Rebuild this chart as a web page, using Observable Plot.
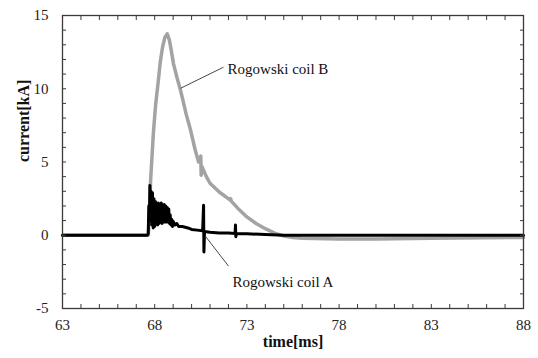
<!DOCTYPE html>
<html><head><meta charset="utf-8">
<script src="https://cdn.jsdelivr.net/npm/d3@7"></script>
<script src="https://cdn.jsdelivr.net/npm/@observablehq/plot@0.6"></script>
<style>
body{margin:0;background:#fff}
</style>
</head><body><div id="chart"></div>
<script>
// Rogowski coil B (gray)
const coilBTime = [63, 67.65, 67.7, 67.78, 67.93, 68.05, 68.2, 68.3, 68.42, 68.55, 68.68, 68.8, 68.9, 69.02, 69.2, 69.4, 69.7, 69.94, 70.2, 70.38, 70.5, 70.52, 70.56, 70.8, 71.0, 71.5, 72.1, 72.12, 72.14, 72.5, 73.0, 73.5, 74.0, 74.5, 75.0, 75.5, 76, 78, 80, 83, 88];
const coilBCurrent = [0, 0, 1.0, 3.8, 7.0, 8.9, 10.6, 11.8, 12.8, 13.5, 13.75, 13.3, 12.6, 11.7, 10.8, 9.9, 8.3, 7.2, 5.8, 5.0, 5.4, 4.1, 4.7, 4.0, 3.55, 2.95, 2.4, 2.5, 2.35, 1.85, 1.25, 0.8, 0.45, 0.15, -0.05, -0.15, -0.2, -0.25, -0.25, -0.2, -0.15];

// Rogowski coil A (black)
const coilATime = [63, 67.6, 67.65, 67.68, 67.71, 67.74, 67.77, 67.8, 67.84, 67.88, 67.92, 67.96, 68.0, 68.04, 68.08, 68.12, 68.16, 68.2, 68.24, 68.28, 68.32, 68.36, 68.4, 68.44, 68.48, 68.52, 68.56, 68.6, 68.64, 68.68, 68.72, 68.76, 68.8, 68.84, 68.88, 68.92, 68.96, 69.0, 69.1, 69.2, 69.3, 69.5, 69.8, 70.0, 70.3, 70.6, 70.65, 70.67, 70.7, 71.0, 71.5, 72.0, 72.36, 72.38, 72.4, 72.42, 73, 74, 75, 80, 88];
const coilACurrent = [0, 0, 0.1, 2.0, 1.0, 3.4, 1.0, 3.0, 0.7, 2.9, 0.5, 2.5, 0.6, 2.3, 0.8, 2.1, 0.7, 2.2, 0.8, 2.0, 0.9, 2.2, 0.8, 1.9, 0.9, 2.1, 0.9, 2.0, 0.9, 1.9, 0.9, 1.8, 0.8, 1.4, 0.7, 1.1, 0.6, 0.95, 0.7, 0.8, 0.6, 0.6, 0.5, 0.4, 0.35, 0.3, 2.05, -1.15, 0.25, 0.2, 0.15, 0.15, 0.12, 0.7, -0.1, 0.1, 0.1, 0.05, 0.0, 0.0, 0.0];

const xTickLabels = [63, 68, 73, 78, 83, 88];
const yTickLabels = [-5, 0, 5, 10, 15];
const xMinorTicks = [63,64,65,66,67,68,69,70,71,72,73,74,75,76,77,78,79,80,81,82,83,84,85,86,87,88];
const yMinorTicks = [-5,-4,-3,-2,-1,0,1,2,3,4,5,6,7,8,9,10,11,12,13,14,15];

const labelNames = ["Rogowski coil B", "Rogowski coil A"];
const labelTime = [71.95, 72.22];
const labelCurrent = [11.33, -3.2];
const leaderTime1 = [69.4, 70.75];
const leaderCurrent1 = [10.03, -0.07];
const leaderTime2 = [71.73, 72.0];
const leaderCurrent2 = [11.47, -2.1];

const seriesB = coilBTime.map((t, i) => ({t, v: coilBCurrent[i]}));
const seriesA = coilATime.map((t, i) => ({t, v: coilACurrent[i]}));
const labels = labelNames.map((name, i) => ({name, t: labelTime[i], v: labelCurrent[i]}));
const leaders = leaderTime1.map((t, i) => ({t1: t, v1: leaderCurrent1[i], t2: leaderTime2[i], v2: leaderCurrent2[i]}));

const serif = "'Liberation Serif', 'Times New Roman', serif";
const ink = "#3a3a3a";
const chart = Plot.plot({
  width: 538,
  height: 358,
  marginLeft: 62,
  marginRight: 15,
  marginTop: 15,
  marginBottom: 50,
  style: `font-family: ${serif}; background: #fff;`,
  x: {domain: [63, 88]},
  y: {domain: [-5, 15]},
  marks: [
    Plot.line(seriesB, {x: "t", y: "v", stroke: "#a3a3a3", strokeWidth: 3.5}),
    Plot.line(seriesA, {x: "t", y: "v", stroke: "#000", strokeWidth: 3}),
    Plot.link(leaders, {x1: "t1", y1: "v1", x2: "t2", y2: "v2", stroke: "#333", strokeWidth: 0.9}),
    Plot.text(labels, {x: "t", y: "v", text: "name", textAnchor: "start", fontSize: 15, fontFamily: serif, fill: "#111"}),
    Plot.frame({stroke: ink, strokeWidth: 1.3}),
    Plot.axisX(xMinorTicks, {anchor: "bottom", tickSize: -4, tickFormat: () => "", stroke: ink, label: null}),
    Plot.axisX(xMinorTicks, {anchor: "top", tickSize: -4, tickFormat: () => "", stroke: ink, label: null}),
    Plot.axisY(yMinorTicks, {anchor: "left", tickSize: -4, tickFormat: () => "", stroke: ink, label: null}),
    Plot.axisY(yMinorTicks, {anchor: "right", tickSize: -4, tickFormat: () => "", stroke: ink, label: null}),
    Plot.axisX(xTickLabels, {anchor: "bottom", tickSize: 0, tickPadding: 11, tickFormat: d => String(d), fontSize: 15, fontFamily: serif, fill: "#222", label: null}),
    Plot.axisY(yTickLabels, {anchor: "left", tickSize: 0, tickPadding: 14, tickFormat: d => String(d), fontSize: 15, fontFamily: serif, fill: "#222", label: null}),
    Plot.text(["time[ms]"], {frameAnchor: "bottom", dy: 38, text: d => d, fontSize: 16, fontFamily: serif, fontWeight: "bold", fill: "#111"}),
    Plot.text(["current[kA]"], {frameAnchor: "left", dx: -39, rotate: -90, text: d => d, fontSize: 16, fontFamily: serif, fontWeight: "bold", fill: "#111"})
  ]
});
document.getElementById("chart").appendChild(chart);
</script>
</body></html>
